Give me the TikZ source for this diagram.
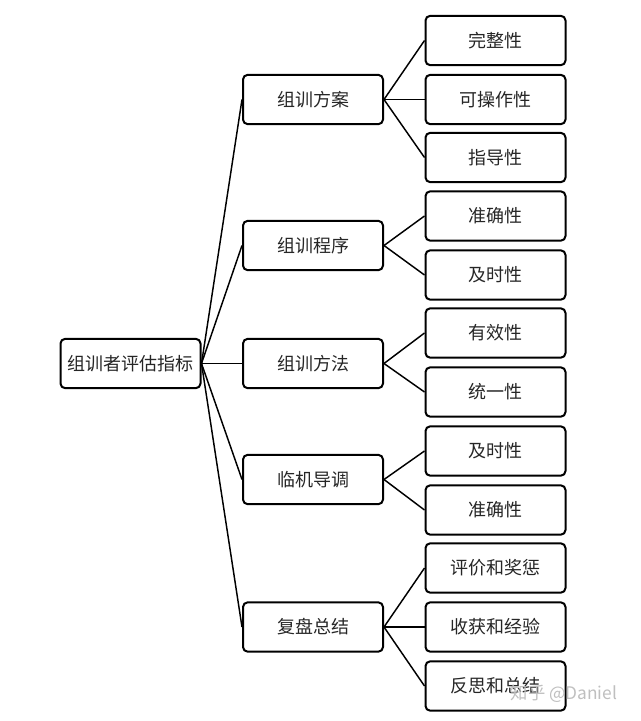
\documentclass[tikz,border=0pt]{standalone}
\usepackage{fontspec}
\setmainfont{Noto Sans CJK SC}
\usepackage{xcolor}
\usetikzlibrary{positioning}

\begin{document}
\begin{tikzpicture}[x=0.75pt,y=-0.75pt,
	box/.style={draw, line width=1.5pt, rounded corners=3.5pt,
		minimum width=105pt, minimum height=37pt, inner sep=0pt,
		font=\fontsize{13.5}{15}\selectfont, text=black!85},
	link/.style={line width=1.1pt}]
	
	\useasboundingbox (0,0) rectangle (640,721);
	
	% root
	\node[box] (root) at (130.5,363.5) {组训者评估指标};
	
	% first level
	\node[box] (fa) at (313,99.5)  {组训方案};
	\node[box] (cx) at (313,245.5) {组训程序};
	\node[box] (ff) at (313,363.5) {组训方法};
	\node[box] (dt) at (313,479.5) {临机导调};
	\node[box] (fp) at (313,627)   {复盘总结};
	
	% second level
	\node[box] (fa1) at (495.5,40.5)  {完整性};
	\node[box] (fa2) at (495.5,99.5)  {可操作性};
	\node[box] (fa3) at (495.5,157.5) {指导性};
	\node[box] (cx1) at (495.5,216)   {准确性};
	\node[box] (cx2) at (495.5,275)   {及时性};
	\node[box] (ff1) at (495.5,333)   {有效性};
	\node[box] (ff2) at (495.5,392)   {统一性};
	\node[box] (dt1) at (495.5,451)   {及时性};
	\node[box] (dt2) at (495.5,510)   {准确性};
	\node[box] (fp1) at (495.5,568)   {评价和奖惩};
	\node[box] (fp2) at (495.5,627)   {收获和经验};
	\node[box] (fp3) at (495.5,686)   {反思和总结};
	
	% links root -> first level
	\foreach \n in {fa,cx,ff,dt,fp}
		\draw[link] (root.east) -- (\n.west);
	
	% links first -> second level
	\foreach \a/\b in {fa/fa1,fa/fa2,fa/fa3,cx/cx1,cx/cx2,ff/ff1,ff/ff2,
		dt/dt1,dt/dt2,fp/fp1,fp/fp2,fp/fp3}
		\draw[link] (\a.east) -- (\b.west);
	
	% watermark
	\node[text=black!25, font=\fontsize{13}{14}\selectfont, anchor=west] (wm) at (506,694) {知乎 @Daniel};
	
\end{tikzpicture}
\end{document}
